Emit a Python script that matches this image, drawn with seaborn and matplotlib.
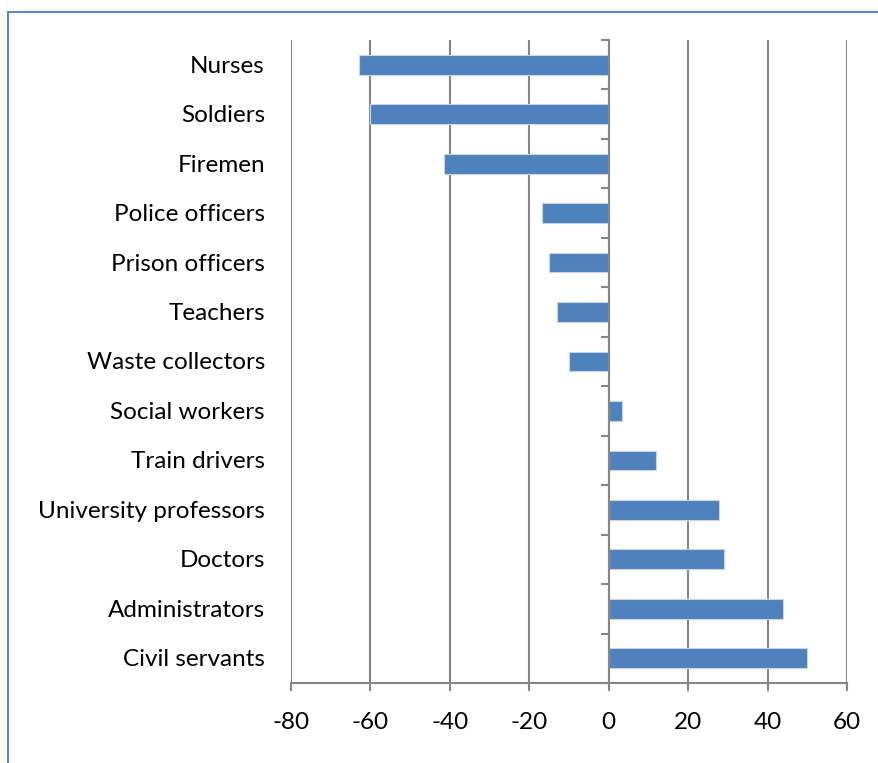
import matplotlib
matplotlib.use("Agg")
import matplotlib.pyplot as plt
from matplotlib.patches import Rectangle
import matplotlib.transforms as mtransforms
import seaborn as sns
import pandas as pd
import numpy as np

categories = ["Nurses", "Soldiers", "Firemen", "Police officers", "Prison officers",
              "Teachers", "Waste collectors", "Social workers", "Train drivers",
              "University professors", "Doctors", "Administrators", "Civil servants"]
values = [-63, -60, -41.5, -16.8, -15.0, -12.9, -9.9, 3.3, 11.8, 27.8, 29.1, 44, 50]
x_ticks = [-80, -60, -40, -20, 0, 20, 40, 60]

df = pd.DataFrame({"category": categories, "value": values})

sns.set_theme(style="white")
plt.rcParams["font.family"] = ["Lato", "DejaVu Sans"]

W, H = 879, 763
fig = plt.figure(figsize=(W / 100, H / 100), dpi=100)
ax = fig.add_axes([291 / W, 1 - 683 / H, (847 - 291) / W, (683 - 40) / H])

grid_c = "#868686"
for xv in x_ticks:
    ax.axvline(xv, color=grid_c, lw=1.5, zorder=0)

sns.barplot(data=df, x="value", y="category", orient="h", order=categories,
            color="#4F81BD", saturation=1, width=0.4, ax=ax,
            edgecolor="#C6D5EA", linewidth=0.8, zorder=2)

ax.set_xlim(-80, 60)
ax.set_ylim(len(categories) - 0.5, -0.5)
ax.set_xticks(x_ticks)
ax.set_xticklabels([str(v) for v in x_ticks], fontsize=17.5, color="black")
ax.tick_params(axis="x", length=6, width=1.5, color=grid_c, pad=15, bottom=True)
ax.set_xlabel("")
ax.set_ylabel("")

for s in ["top", "right"]:
    ax.spines[s].set_visible(False)
ax.spines["bottom"].set_color(grid_c)
ax.spines["bottom"].set_linewidth(1.5)
ax.spines["left"].set_position(("data", 0))
ax.spines["left"].set_color(grid_c)
ax.spines["left"].set_linewidth(1.5)
ax.spines["left"].set_zorder(3)

ax.set_yticks(np.arange(-0.5, len(categories), 1.0))
ax.set_yticklabels([])
ax.tick_params(axis="y", length=6, width=1.5, color=grid_c, left=True)

trans = mtransforms.blended_transform_factory(ax.transAxes, ax.transData)
for i, c in enumerate(categories):
    ax.text(-26 / (847 - 291), i + 0.03, c, transform=trans, ha="right", va="center",
            fontsize=17.5, color="black")

fig.patches.append(Rectangle((8 / W, -0.1), 1.2, 1 - 12 / H + 0.1,
                             transform=fig.transFigure, fill=False,
                             edgecolor="#5B87C5", linewidth=1.5))

fig.savefig("out.png", dpi=100)
